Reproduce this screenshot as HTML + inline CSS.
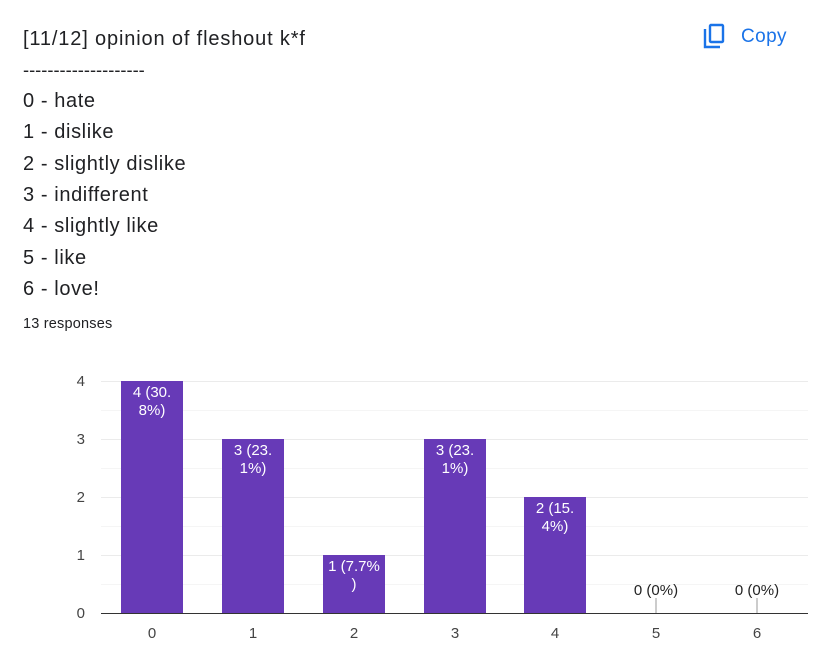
<!DOCTYPE html>
<html><head><style>
body{margin:0;width:821px;height:649px;background:#fff;font-family:"Liberation Sans",Arial,sans-serif;color:#202124;position:relative;overflow:hidden}
.t{position:absolute;left:23px;font-size:20px;line-height:20px;letter-spacing:0.6px}
</style></head><body>
<div class="t" style="top:29px;letter-spacing:0.85px">[11/12] opinion of fleshout k*f</div>
<div class="t" style="top:60px;letter-spacing:0;font-size:18.3px">--------------------</div>
<div class="t" style="top:91px">0 - hate</div>
<div class="t" style="top:122px">1 - dislike</div>
<div class="t" style="top:154px">2 - slightly dislike</div>
<div class="t" style="top:185px">3 - indifferent</div>
<div class="t" style="top:216px">4 - slightly like</div>
<div class="t" style="top:248px">5 - like</div>
<div class="t" style="top:279px">6 - love!</div>
<div style="position:absolute;left:23px;top:316px;font-size:14.5px;letter-spacing:0.2px">13 responses</div>
<svg style="position:absolute;left:703px;top:23px" width="24" height="26" viewBox="0 0 24 26">
<path d="M2 6 V24 H17" fill="none" stroke="#1a73e8" stroke-width="2.4"/>
<rect x="7" y="2" width="13" height="17" rx="1" fill="none" stroke="#1a73e8" stroke-width="2.4"/>
</svg>
<div style="position:absolute;left:741px;top:26px;font-size:19px;letter-spacing:0.4px;color:#1a73e8">Copy</div>
<svg style="position:absolute;left:0;top:0" width="821" height="649" font-family="Liberation Sans,Arial,sans-serif">
<g stroke="#ebebeb" stroke-width="1">
<line x1="101" x2="808" y1="381.5" y2="381.5"/><line x1="101" x2="808" y1="410.5" y2="410.5" stroke="#f5f5f5"/>
<line x1="101" x2="808" y1="439.5" y2="439.5"/><line x1="101" x2="808" y1="468.5" y2="468.5" stroke="#f5f5f5"/>
<line x1="101" x2="808" y1="497.5" y2="497.5"/><line x1="101" x2="808" y1="526.5" y2="526.5" stroke="#f5f5f5"/>
<line x1="101" x2="808" y1="555.5" y2="555.5"/><line x1="101" x2="808" y1="584.5" y2="584.5" stroke="#f5f5f5"/>
</g>
<g font-size="15" fill="#444" text-anchor="end">
<text x="85" y="386">4</text><text x="85" y="444">3</text><text x="85" y="502">2</text><text x="85" y="560">1</text><text x="85" y="618">0</text>
</g>
<g fill="#673ab7">
<rect x="121" y="381" width="62" height="232"/>
<rect x="222" y="439" width="62" height="174"/>
<rect x="323" y="555" width="62" height="58"/>
<rect x="424" y="439" width="62" height="174"/>
<rect x="524" y="497" width="62" height="116"/>
</g>
<line x1="101" x2="808" y1="613.5" y2="613.5" stroke="#333" stroke-width="1"/>
<g stroke="#999"><line x1="656" x2="656" y1="598" y2="613"/><line x1="757" x2="757" y1="598" y2="613"/></g>
<g font-size="15" fill="#fff" text-anchor="middle">
<text x="152" y="397">4 (30.</text><text x="152" y="415">8%)</text>
<text x="253" y="455">3 (23.</text><text x="253" y="473">1%)</text>
<text x="354" y="571">1 (7.7%</text><text x="354" y="589">)</text>
<text x="455" y="455">3 (23.</text><text x="455" y="473">1%)</text>
<text x="555" y="513">2 (15.</text><text x="555" y="531">4%)</text>
</g>
<g font-size="15" fill="#222" text-anchor="middle">
<text x="656" y="595">0 (0%)</text><text x="757" y="595">0 (0%)</text>
</g>
<g font-size="15" fill="#444" text-anchor="middle">
<text x="152" y="638">0</text><text x="253" y="638">1</text><text x="354" y="638">2</text><text x="455" y="638">3</text><text x="555" y="638">4</text><text x="656" y="638">5</text><text x="757" y="638">6</text>
</g>
</svg>
</body></html>
